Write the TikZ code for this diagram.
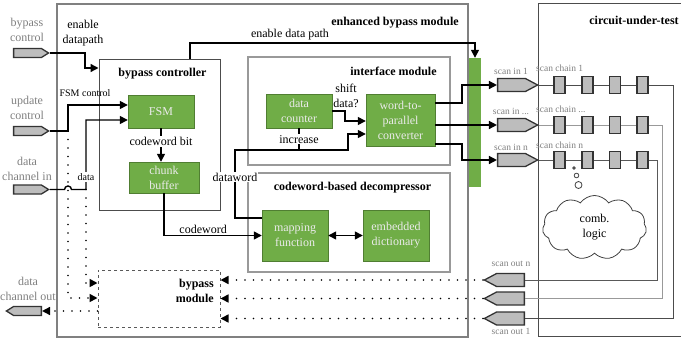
\documentclass[tikz,border=0pt]{standalone}
\usepackage{fontspec}
\setmainfont{Liberation Serif}
\usetikzlibrary{arrows.meta}
\usetikzlibrary{shapes.symbols}
\definecolor{blkgreen}{HTML}{70AD47}
\definecolor{blkedge}{HTML}{507E32}
\definecolor{portgray}{HTML}{BDBDBD}
\definecolor{lblgray}{HTML}{808080}

\begin{document}
\begin{tikzpicture}[x=1pt,y=-1pt]
  \tikzstyle{frame} = [rectangle, draw=black!55, line width=1pt, inner sep=0pt]
  \tikzstyle{blk} = [rectangle, draw=blkedge, fill=blkgreen, text=white!92!black, align=center, inner sep=0pt, font=\fontsize{12}{15}\selectfont]
  \tikzstyle{title} = [font=\bfseries\fontsize{12}{15}\selectfont, align=right, inner sep=0pt]
  \tikzstyle{lbl} = [font=\fontsize{12}{15}\selectfont, align=center, inner sep=1pt]
  \tikzstyle{small} = [font=\fontsize{10}{12}\selectfont, inner sep=1pt]
  \tikzstyle{portlbl} = [font=\fontsize{12}{15}\selectfont, text=lblgray, align=center, inner sep=0pt]
  \tikzstyle{scanlbl} = [font=\fontsize{9.5}{11}\selectfont, text=lblgray, inner sep=0pt]
  \tikzstyle{port} = [signal, draw=black!80, fill=portgray, line width=1.3pt, inner sep=0pt, minimum width=35pt, minimum height=9pt, signal pointer angle=64]
  \tikzstyle{scanport} = [port, minimum width=40pt, minimum height=13pt, signal pointer angle=56]
  \tikzstyle{ff} = [rectangle, draw=black!80, fill=portgray, line width=1.3pt, inner sep=0pt, minimum width=11pt, minimum height=17pt]
  \tikzstyle{sig} = [line width=1.4pt, -{Triangle[length=8pt,width=8pt]}]
  \tikzstyle{dotline} = [line width=1.6pt, line cap=round, dash pattern=on 0pt off 8.5pt, -{Triangle[length=8pt,width=8pt]}]

  \useasboundingbox (0,0) rectangle (681,341);

  \node[frame, draw=black!50, line width=1.3pt, minimum width=411pt, minimum height=333pt] (ebm) at (262.5,170.5) {};
  \node[frame, draw=black!70, minimum width=121pt, minimum height=151pt] (bc) at (159.5,134.5) {};
  \node[frame, draw=black!40, line width=1.5pt, minimum width=202pt, minimum height=108pt] (im) at (349,111) {};
  \node[frame, draw=black!40, line width=1.5pt, minimum width=202pt, minimum height=99pt] (cbd) at (349,222.5) {};
  \node[frame, draw=black!65, dashed, minimum width=122pt, minimum height=57pt] (bpm) at (159,298.5) {};
  \node[frame, draw=black!70, minimum width=162pt, minimum height=333pt] (cut) at (619,169.5) {};

  \node[title, anchor=base] (ebmtitle) at (395,25) {enhanced bypass module};
  \node[title, anchor=base] (bctitle) at (162.5,76) {bypass controller};
  \node[title, anchor=base] (imtitle) at (393.5,75) {interface module};
  \node[title, anchor=base] (cbdtitle) at (352.5,190) {codeword-based decompressor};
  \node[title, anchor=base] (cuttitle) at (634,24) {circuit-under-test};
  \node[title, anchor=east] (bpmtitle) at (214,290.5) {bypass\\module};

  \node[blk, minimum width=66pt, minimum height=33pt] (fsm) at (161,111.5) {FSM};
  \node[blk, minimum width=70pt, minimum height=31pt] (chunk) at (164,177.5) {chunk\\buffer};
  \node[blk, minimum width=66pt, minimum height=34pt] (cnt) at (299,111) {data\\counter};
  \node[blk, minimum width=69pt, minimum height=52pt] (conv) at (400.5,120) {word-to-\\parallel\\converter};
  \node[blk, minimum width=66pt, minimum height=51pt] (map) at (295,235.5) {mapping\\function};
  \node[blk, minimum width=66pt, minimum height=51pt] (dict) at (396,235.5) {embedded\\dictionary};
  \node[blk, draw=none, minimum width=12pt, minimum height=129pt] (bar) at (475,122.5) {};

  \node[port, signal to=east] (pbc) at (27.5,53) {};
  \node[port, signal to=east] (puc) at (27.5,131) {};
  \node[port, signal to=east] (pdi) at (27.5,189.5) {};
  \node[port, signal to=west] (pdo) at (27.5,311) {};
  \foreach \n/\y in {1/85, m/125, n/160}
    \node[scanport, signal to=east] (sin\n) at (511.5,\y) {};
  \foreach \n/\y in {n/280, m/298.5, 1/318.5}
    \node[scanport, signal to=west] (sout\n) at (510.5,\y) {};

  \node[portlbl] (pbclbl) at (27,30) {bypass\\control};
  \node[portlbl] (puclbl) at (27,108) {update\\control};
  \node[portlbl] (pdilbl) at (27,169) {data\\channel in};
  \node[portlbl] (pdolbl) at (28,289) {data\\channel out};

  \coordinate (jupd) at (68,131);
  \coordinate (jdat) at (86,189.5);

  \draw[sig] (pbc.east) -| (85,68) -- (bc.west |- 0,68);
  \node[lbl] (endp) at (83,33) {enable\\datapath};
  \draw[sig] (bc.north -| 190,0) |- (475,43) -- (bar.north);
  \node[lbl] (endpath) at (290,35) {enable data path};
  \draw[sig] (puc.east) -| (68,105) -- (fsm.west |- 0,105);
  \node[small] (fsmctl) at (85,93) {FSM control};
  \draw[sig] (pdi.east) -- (64.5,189.5) arc (180:360:3.5) -- (jdat) |- (fsm.west |- 0,120);
  \node[small, fill=white] (datalbl) at (86,177) {data};

  \draw[dotline] (jupd) |- (bpm.west |- 0,298);
  \draw[dotline] (jdat) |- (bpm.west |- 0,283);
  \draw[dotline] (bpm.west |- 0,311) -- (pdo.east);

  \draw[sig] (fsm.south) -- (chunk.north -| fsm.south) node[lbl, pos=0.4, fill=white] (cwbit) {codeword bit};
  \draw[sig] (chunk.south) |- (map.west) node[lbl, pos=0.7, above] (cwlbl) {codeword};
  \draw[line width=1.4pt, {Triangle[length=8pt,width=8pt]}-{Triangle[length=8pt,width=8pt]}] (map.east) -- (dict.west);
  \draw[sig] (map.north west) ++(0,8) -| (235,150) -| (348,134) -- (conv.west |- 0,134);
  \node[lbl, fill=white] (dwlbl) at (235,177) {dataword};
  \draw[line width=1.4pt] (cnt.south) -- (cnt.south |- 0,150) node[lbl, midway, fill=white] (inclbl) {increase};
  \draw[sig] (cnt.east) -| (345,121) -- (conv.west |- 0,121);
  \node[lbl] (shiftlbl) at (346,96) {shift\\data?};

  \draw[sig] (conv.east |- 0,103) -| (462,85) -- (sin1.west);
  \draw[sig] (conv.east |- 0,125) -- (sinm.west);
  \draw[sig] (conv.east |- 0,144) -| (462,160) -- (sinn.west);

  \foreach \n/\y/\xr/\c in {1/85/673/black!70, m/125/662/black!40, n/160/657/black!65} {
    \draw[\c, line width=1pt] (sin\n.east) -- (\xr,\y) |- (sout\n.east);
    \foreach \i/\x in {1/559.5, 2/587.5, 3/615, 4/642.5}
      \node[ff] (ff\n\i) at (\x,\y) {};
  }
  \foreach \n in {n, m, 1}
    \draw[dotline] (sout\n.west) -- (bpm.east |- sout\n.west);

  \node[scanlbl] (sin1lbl) at (511,71) {scan in 1};
  \node[scanlbl] (sinmlbl) at (511,111) {scan in ...};
  \node[scanlbl] (sinnlbl) at (511,147) {scan in n};
  \node[scanlbl] (soutnlbl) at (511,264) {scan out n};
  \node[scanlbl] (sout1lbl) at (511,331) {scan out 1};
  \node[scanlbl, anchor=west] (sc1lbl) at (536,68) {scan chain 1};
  \node[scanlbl, anchor=west] (scmlbl) at (536,109) {scan chain ...};
  \node[scanlbl, anchor=west] (scnlbl) at (536,145) {scan chain n};

  \draw[black!75, line width=0.8pt] (574,168) circle (1.3) (576.5,175.5) circle (2.3) (578.5,185) circle (3.5);
  \node[cloud, draw=black!75, line width=0.8pt, cloud puffs=11, cloud puff arc=110, aspect=1.6, minimum width=104pt, minimum height=64pt, lbl] (logic) at (594.5,227.5) {comb.\\logic};
\end{tikzpicture}
\end{document}
